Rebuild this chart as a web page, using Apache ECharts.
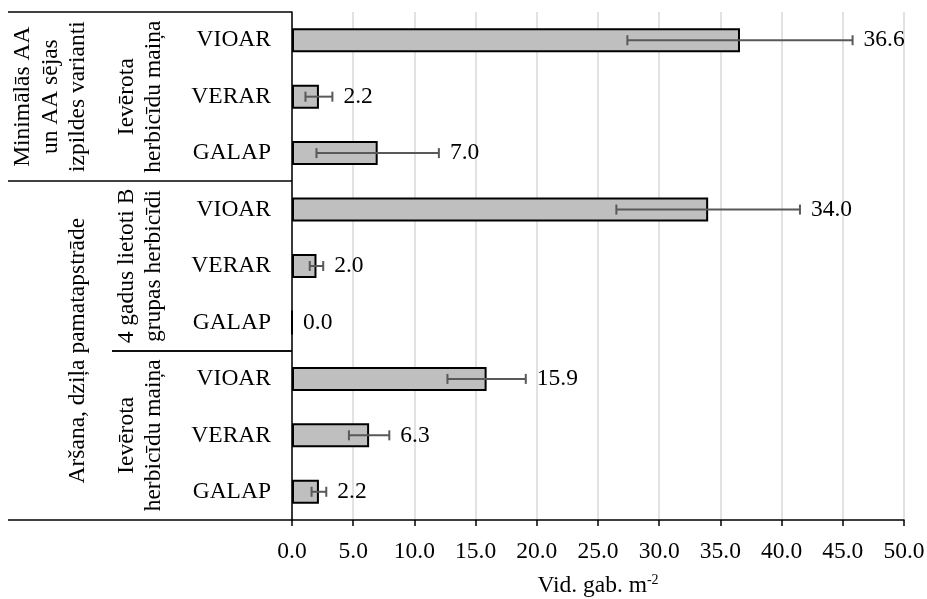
<!DOCTYPE html>
<html>
<head>
<meta charset="utf-8">
<script src="https://cdn.jsdelivr.net/npm/echarts@6/dist/echarts.min.js"></script>
<style>
  html, body { margin: 0; padding: 0; background: #fff; }
  #chart { width: 927px; height: 599px; }
</style>
</head>
<body>
<div id="chart"></div>
<script>
// Weed species per treatment, top to bottom
const categories = ['VIOAR', 'VERAR', 'GALAP', 'VIOAR', 'VERAR', 'GALAP', 'VIOAR', 'VERAR', 'GALAP'];
// Mean density, plants per m²
const values = [36.6, 2.2, 7.0, 34.0, 2.0, 0.0, 15.9, 6.3, 2.2];
// Error (±) around each mean
const errors = [9.2, 1.1, 5.0, 7.5, 0.55, 0.0, 3.2, 1.65, 0.6];
// Value-axis range
const axisMin = 0;
const axisMax = 50;
const axisStep = 5;
// Grouping of the rows: tillage (outer) and herbicide use (inner)
const outerGroups = [
  { lines: ['Minimālās AA', 'un AA sējas', 'izpildes varianti'], from: 0, to: 2 },
  { lines: ['Aršana, dziļa pamatapstrāde'], from: 3, to: 8 }
];
const innerGroups = [
  { lines: ['Ievērota', 'herbicīdu maiņa'], from: 0, to: 2 },
  { lines: ['4 gadus lietoti B', 'grupas herbicīdi'], from: 3, to: 5 },
  { lines: ['Ievērota', 'herbicīdu maiņa'], from: 6, to: 8 }
];

const FONT = '"Liberation Serif", "Times New Roman", serif';
const FS = 23.5;
const GFS = 23.5;

const chart = echarts.init(document.getElementById('chart'), null, { renderer: 'canvas' });

const errData = values.map((v, i) => [v - errors[i], v + errors[i], i, v]);

chart.setOption({
  animation: false,
  backgroundColor: '#ffffff',
  grid: { left: 292, right: 23, top: 12, bottom: 79, containLabel: false, outerBoundsMode: 'none' },
  xAxis: {
    type: 'value',
    min: axisMin,
    max: axisMax,
    interval: axisStep,
    axisLine: { show: true, lineStyle: { color: '#000', width: 1.5 } },
    axisTick: { show: true, length: 6, lineStyle: { color: '#000', width: 1.5 } },
    axisLabel: {
      color: '#000', fontFamily: FONT, fontSize: FS, margin: 20,
      formatter: v => v.toFixed(1)
    },
    splitLine: { show: true, lineStyle: { color: '#d9d9d9', width: 1.5 } },
    name: '{n|Vid. gab. m}{s|-2}',
    nameLocation: 'middle',
    nameGap: 53,
    nameTextStyle: {
      rich: {
        n: { fontFamily: FONT, fontSize: FS, color: '#000', lineHeight: 26 },
        s: { fontFamily: FONT, fontSize: 14, color: '#000', verticalAlign: 'top', lineHeight: 26, padding: [0, 0, 11, 0] }
      }
    }
  },
  yAxis: {
    type: 'category',
    inverse: true,
    data: categories,
    axisLine: { show: true, lineStyle: { color: '#000', width: 1.5 } },
    axisTick: { show: false },
    axisLabel: { color: '#000', fontFamily: FONT, fontSize: FS, margin: 21 },
    splitLine: { show: false }
  },
  series: [
    {
      type: 'bar',
      data: values,
      barWidth: 24,
      itemStyle: { color: '#bfbfbf', borderColor: '#000', borderWidth: 2 },
      z: 2
    },
    {
      type: 'custom',
      data: errData,
      z: 3,
      renderItem: function (params, api) {
        const lo = api.coord([api.value(0), api.value(2)]);
        const hi = api.coord([api.value(1), api.value(2)]);
        const cap = 5;
        const style = { stroke: '#595959', lineWidth: 2 };
        const children = [];
        if (hi[0] - lo[0] > 0.5) {
          children.push(
            { type: 'line', shape: { x1: lo[0], y1: lo[1], x2: hi[0], y2: hi[1] }, style: style },
            { type: 'line', shape: { x1: lo[0], y1: lo[1] - cap, x2: lo[0], y2: lo[1] + cap }, style: style },
            { type: 'line', shape: { x1: hi[0], y1: hi[1] - cap, x2: hi[0], y2: hi[1] + cap }, style: style }
          );
        }
        children.push({
          type: 'text',
          x: hi[0] + 11,
          y: hi[1],
          style: {
            text: api.value(3).toFixed(1),
            fontFamily: FONT, fontSize: FS, fill: '#000',
            align: 'left', verticalAlign: 'middle'
          }
        });
        return { type: 'group', children: children };
      }
    }
  ]
});

// Row grouping labels and separators at the left of the category axis
function drawGroups() {
  const c0 = chart.convertToPixel({ yAxisIndex: 0 }, 0);
  const c1 = chart.convertToPixel({ yAxisIndex: 0 }, 1);
  const band = c1 - c0;
  const top = i => chart.convertToPixel({ yAxisIndex: 0 }, i) - band / 2;
  const bottom = i => chart.convertToPixel({ yAxisIndex: 0 }, i) + band / 2;
  const axisX = chart.convertToPixel({ xAxisIndex: 0 }, axisMin);
  const outerLeft = 8;
  const innerLeft = 112;
  const els = [];
  const lineStyle = { stroke: '#000', lineWidth: 1.5 };
  const outerBounds = new Set();
  outerGroups.forEach(g => {
    outerBounds.add(Math.round(top(g.from)));
    outerBounds.add(Math.round(bottom(g.to)));
  });
  outerBounds.forEach(y => {
    els.push({ type: 'line', shape: { x1: outerLeft, y1: y, x2: axisX, y2: y }, style: lineStyle });
  });
  innerGroups.forEach(g => {
    [top(g.from), bottom(g.to)].forEach(yy => {
      const y = Math.round(yy);
      if (!outerBounds.has(y)) {
        els.push({ type: 'line', shape: { x1: innerLeft, y1: y, x2: axisX, y2: y }, style: lineStyle });
      }
    });
  });
  const addText = (g, rightX) => {
    const cy = (top(g.from) + bottom(g.to)) / 2;
    els.push({
      type: 'text',
      x: rightX,
      y: cy,
      rotation: Math.PI / 2,
      style: {
        text: g.lines.join('\n'),
        fontFamily: FONT, fontSize: GFS, fill: '#000',
        lineHeight: 27.5,
        align: 'center', verticalAlign: 'bottom'
      }
    });
  };
  outerGroups.forEach(g => addText(g, 92));
  innerGroups.forEach(g => addText(g, 168));
  chart.setOption({ graphic: els });
}
drawGroups();
</script>
</body>
</html>
